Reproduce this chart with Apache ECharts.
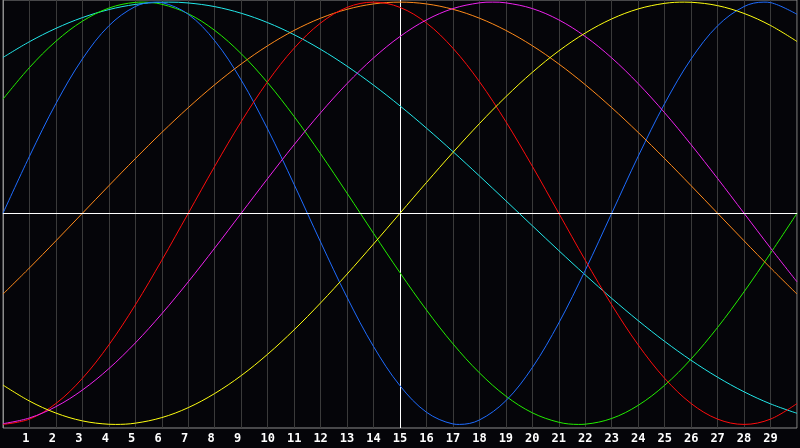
<!DOCTYPE html>
<html>
<head>
<meta charset="utf-8">
<script src="https://cdn.jsdelivr.net/npm/echarts@6/dist/echarts.min.js"></script>
<style>
html,body{margin:0;padding:0;background:#050509;}
#c{width:800px;height:448px;}
</style>
</head>
<body>
<div id="c"></div>
<script>
// days shown along the bottom axis (0 and 30 are the unlabelled edges)
const days = [0,1,2,3,4,5,6,7,8,9,10,11,12,13,14,15,16,17,18,19,20,21,22,23,24,25,26,27,28,29,30];

// curve values read at each day
const cyan = [0.7378,0.8125,0.8757,0.9267,0.9646,0.9890,0.9996,0.9960,0.9786,0.9473,0.9028,0.8456,0.7765,0.6965,0.6068,0.5085,0.4031,0.2921,0.1769,0.0592,-0.0592,-0.1769,-0.2921,-0.4031,-0.5085,-0.6068,-0.6965,-0.7765,-0.8456,-0.9028,-0.9473];
const green = [0.5406,0.6901,0.8146,0.9096,0.9718,0.9989,0.9898,0.9450,0.8660,0.7557,0.6182,0.4582,0.2817,0.0951,-0.0951,-0.2817,-0.4582,-0.6182,-0.7557,-0.8660,-0.9450,-0.9898,-0.9989,-0.9718,-0.9096,-0.8146,-0.6901,-0.5406,-0.3717,-0.1893,0];
const blue = [0,0.2698,0.5196,0.7308,0.8879,0.9791,0.9977,0.9423,0.8170,0.6311,0.3984,0.1362,-0.1362,-0.3984,-0.6311,-0.8170,-0.9423,-0.9977,-0.9791,-0.8879,-0.7308,-0.5196,-0.2698,0,0.2698,0.5196,0.7308,0.8879,0.9791,0.9977,0.9423];
const orange = [-0.3827,-0.2588,-0.1305,0,0.1305,0.2588,0.3827,0.5,0.6088,0.7071,0.7934,0.8660,0.9239,0.9659,0.9914,1,0.9914,0.9659,0.9239,0.8660,0.7934,0.7071,0.6088,0.5,0.3827,0.2588,0.1305,0,-0.1305,-0.2588,-0.3827];
const red = [-1,-0.9749,-0.9010,-0.7818,-0.6235,-0.4339,-0.2225,0,0.2225,0.4339,0.6235,0.7818,0.9010,0.9749,1,0.9749,0.9010,0.7818,0.6235,0.4339,0.2225,0,-0.2225,-0.4339,-0.6235,-0.7818,-0.9010,-0.9749,-1,-0.9749,-0.9010];
const magenta = [-0.9966,-0.9694,-0.9158,-0.8372,-0.7357,-0.6142,-0.4759,-0.3247,-0.1646,0,0.1646,0.3247,0.4759,0.6142,0.7357,0.8372,0.9158,0.9694,0.9966,0.9966,0.9694,0.9158,0.8372,0.7357,0.6142,0.4759,0.3247,0.1646,0,-0.1646,-0.3247];
const yellow = [-0.8136,-0.8894,-0.9463,-0.9833,-0.9993,-0.9941,-0.9677,-0.9205,-0.8536,-0.7689,-0.6675,-0.5519,-0.4245,-0.2881,-0.1456,0,0.1456,0.2881,0.4245,0.5519,0.6675,0.7689,0.8536,0.9205,0.9677,0.9941,0.9993,0.9833,0.9463,0.8894,0.8136];

// turning points (peaks / troughs) read between the days
const cyanPeakDays = [6.25];       const cyanPeaks = [1];
const greenPeakDays = [5.25, 21.75]; const greenPeaks = [1, -1];
const bluePeakDays = [5.75, 17.25, 28.75]; const bluePeaks = [1, -1, 1];
const orangePeakDays = [];         const orangePeaks = [];
const redPeakDays = [];            const redPeaks = [];
const magentaPeakDays = [18.5];    const magentaPeaks = [1];
const yellowPeakDays = [4.25, 25.75]; const yellowPeaks = [-1, 1];

const curves = [
  {name:'cyan', values: cyan, pd: cyanPeakDays, pv: cyanPeaks, color:'#22e8ea'},
  {name:'green', values: green, pd: greenPeakDays, pv: greenPeaks, color:'#22ee00'},
  {name:'blue', values: blue, pd: bluePeakDays, pv: bluePeaks, color:'#1e6cff'},
  {name:'orange', values: orange, pd: orangePeakDays, pv: orangePeaks, color:'#ff8a1a'},
  {name:'red', values: red, pd: redPeakDays, pv: redPeaks, color:'#ff0c0c'},
  {name:'magenta', values: magenta, pd: magentaPeakDays, pv: magentaPeaks, color:'#ee22ee'},
  {name:'yellow', values: yellow, pd: yellowPeakDays, pv: yellowPeaks, color:'#ffff10'}
];

const splitColors = days.map(d => d === 15 ? '#ffffff' : (d === 0 ? '#8c8c8c' : '#3a3a3a'));

const chart = echarts.init(document.getElementById('c'), null, {renderer:'canvas'});
const series = curves.map((c, idx) => {
  const pts = days.map((d, i) => [d, c.values[i]]).concat(c.pd.map((d, i) => [d, c.pv[i]]));
  pts.sort((a, b) => a[0] - b[0]);
  return {
    name: c.name,
    type: 'line',
    smooth: 0.35,
    showSymbol: false,
    symbol: 'none',
    silent: true,
    animation: false,
    lineStyle: {color: c.color, width: 1},
    data: pts,
    markLine: idx === 0 ? {
      silent: true,
      symbol: 'none',
      label: {show: false},
      lineStyle: {color: '#ffffff', width: 1, type: 'solid'},
      data: [{yAxis: 0}]
    } : undefined
  };
});

chart.setOption({
  backgroundColor: '#050509',
  animation: false,
  grid: {left: 0, top: 0, right: -1, height: 428, show: true, borderColor: '#8c8c8c', borderWidth: 1, backgroundColor: 'transparent'},
  xAxis: {
    type: 'value', min: 0, max: 30, interval: 1,
    axisLine: {show: true, lineStyle: {color: '#8c8c8c'}},
    axisTick: {show: false},
    axisLabel: {
      color: '#ffffff', fontFamily: 'DejaVu Sans Mono', fontWeight: 'bold', fontSize: 12, margin: 5,
      formatter: v => (v < 1 || v > 29) ? '' : (v < 10 ? v + '\u00a0' : String(v))
    },
    splitLine: {show: true, lineStyle: {color: splitColors, width: 1}}
  },
  yAxis: {
    type: 'value', min: -1.017, max: 1.010,
    axisLine: {show: false}, axisTick: {show: false}, axisLabel: {show: false},
    splitLine: {show: false}
  },
  series: series
});
</script>
</body>
</html>
